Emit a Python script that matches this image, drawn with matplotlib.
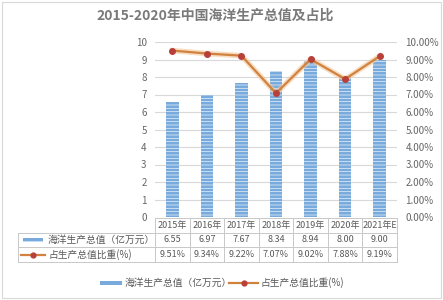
import matplotlib
matplotlib.use("Agg")
import matplotlib.pyplot as plt
import matplotlib.transforms as mtransforms
from matplotlib.patches import Rectangle
from matplotlib.lines import Line2D
import numpy as np

plt.rcParams['font.family'] = ['Noto Sans CJK SC', 'DejaVu Sans']
plt.rcParams['hatch.linewidth'] = 0.5

years = ['2015年', '2016年', '2017年', '2018年', '2019年', '2020年', '2021年E']
output = [6.55, 6.97, 7.67, 8.34, 8.94, 8.00, 9.00]
share = [9.51, 9.34, 9.22, 7.07, 9.02, 7.88, 9.19]
bar_label = '海洋生产总值（亿万元）'
line_label = '占生产总值比重(%)'

W, H = 443, 300
fig = plt.figure(figsize=(W / 100, H / 100), dpi=100)
fig.patch.set_facecolor('white')

def fx(x):
    return x / W

def fy(y):
    return 1 - y / H

bar_c = '#78abdc'

# outer frame
fig.patches.append(Rectangle((fx(2), fy(298)), fx(439), 296 / H, transform=fig.transFigure,
                             fill=False, edgecolor='#d9d9d9', linewidth=0.8))

fig.text(0.485, fy(16), '2015-2020年中国海洋生产总值及占比', ha='center', va='center',
         fontsize=10, fontweight='bold', color='#7a7a7a')

ax = fig.add_axes([fx(155), fy(217), fx(397 - 155), (217 - 42) / H])
x = np.arange(len(years))
ax.bar(x, output, width=0.36, color=bar_c, edgecolor='#eaf2fb', linewidth=0,
       hatch='-----', zorder=2)
ax.set_xlim(-0.5, len(years) - 0.5)
ax.set_ylim(0, 10)
ax.set_yticks(range(0, 11))
ax.grid(axis='y', color='#d9d9d9', linewidth=0.8, zorder=0)
ax.set_axisbelow(True)
for s in ax.spines.values():
    s.set_visible(False)
ax.set_xticks([])
ax.tick_params(axis='y', length=0, labelsize=7, labelcolor='#666666', pad=6)

ax2 = ax.twinx()
ax2.plot(x, share, color='#f3c79a', linewidth=4, alpha=0.6, zorder=3)
ax2.plot(x, share, color='#d0823e', linewidth=1.6, marker='o', markersize=4,
         markerfacecolor='#b8403a', markeredgecolor='#b8403a', zorder=4)
ax2.set_ylim(0, 10)
ax2.set_yticks(range(0, 11))
ax2.set_yticklabels(['%.2f%%' % v for v in range(0, 11)])
ax2.tick_params(axis='y', length=0, labelsize=7, labelcolor='#666666', pad=6)
for s in ax2.spines.values():
    s.set_visible(False)

# data table under the plot
tr = mtransforms.blended_transform_factory(ax.transData, fig.transFigure)
row_y = [218, 233, 247, 262]
grid_c = '#c8c8c8'
lw = 0.7
fig.add_artist(Line2D([-0.5, 6.5], [fy(row_y[0])] * 2, transform=tr, color=grid_c, lw=lw))
for yy in row_y[1:]:
    fig.add_artist(Line2D([fx(18), fx(397)], [fy(yy)] * 2, transform=fig.transFigure,
                          color=grid_c, lw=lw))
for i in range(len(years) + 1):
    fig.add_artist(Line2D([i - 0.5, i - 0.5], [fy(row_y[0]), fy(row_y[3])], transform=tr,
                          color=grid_c, lw=lw))
fig.add_artist(Line2D([fx(18), fx(18)], [fy(row_y[1]), fy(row_y[3])],
                      transform=fig.transFigure, color=grid_c, lw=lw))

tc = '#595959'
for i, yr in enumerate(years):
    fig.text(i, fy(225.5), yr, transform=tr, ha='center', va='center', fontsize=6.5, color=tc)
    fig.text(i, fy(240), '%.2f' % output[i], transform=tr, ha='center', va='center',
             fontsize=6.5, color=tc)
    fig.text(i, fy(254.5), '%.2f%%' % share[i], transform=tr, ha='center', va='center',
             fontsize=6.5, color=tc)

# row keys
fig.patches.append(Rectangle((fx(23), fy(242)), fx(20), 4 / H, transform=fig.transFigure,
                             facecolor=bar_c, edgecolor='#eaf2fb', linewidth=0, hatch='---'))
fig.text(fx(48), fy(240), bar_label, ha='left', va='center', fontsize=7, color=tc)
fig.add_artist(Line2D([fx(21), fx(45)], [fy(254.5)] * 2, transform=fig.transFigure,
                      color='#d0823e', lw=1.6))
fig.add_artist(Line2D([fx(33)], [fy(254.5)], transform=fig.transFigure, color='#b8403a',
                      marker='o', markersize=3.5, lw=0))
fig.text(fx(48), fy(254.5), line_label, ha='left', va='center', fontsize=7, color=tc)

# legend at bottom
fig.patches.append(Rectangle((fx(100), fy(285)), fx(22), 4 / H, transform=fig.transFigure,
                             facecolor=bar_c, edgecolor='#eaf2fb', linewidth=0, hatch='---'))
fig.text(fx(125), fy(283), bar_label, ha='left', va='center', fontsize=7, color=tc)
fig.add_artist(Line2D([fx(229), fx(258)], [fy(283)] * 2, transform=fig.transFigure,
                      color='#d0823e', lw=1.6))
fig.add_artist(Line2D([fx(243.5)], [fy(283)], transform=fig.transFigure, color='#b8403a',
                      marker='o', markersize=3.5, lw=0))
fig.text(fx(261), fy(283), line_label, ha='left', va='center', fontsize=7, color=tc)

fig.savefig('out.png', dpi=100, facecolor='white')
